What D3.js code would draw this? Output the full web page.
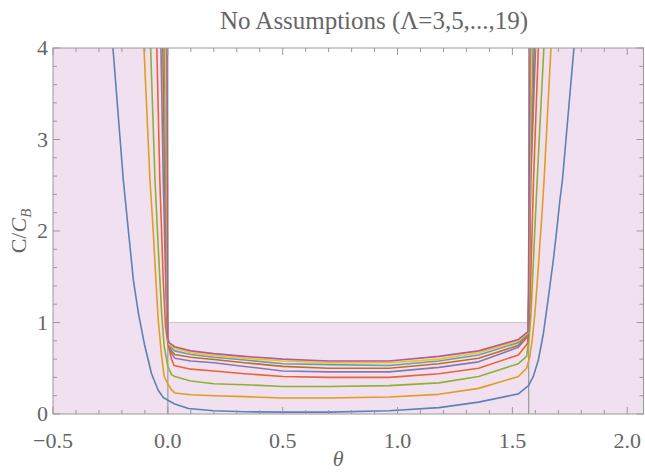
<!DOCTYPE html>
<head>
  <meta charset="utf-8">
  <script src="https://d3js.org/d3.v7.min.js"></script>
  <style>
    body { margin:0; background:#fff; }
    text { font-family: "Liberation Serif", "DejaVu Serif", serif; fill:#666; }
  </style>
</head>
<body>
<script>
// Lambda values and the default plot colours
var lambdas = [3, 5, 7, 9, 11, 13, 15, 17, 19];
var colors = ['#5E81B5', '#E19C24', '#8FB032', '#EB6235', '#8778B3', '#C56E1A', '#5D9EC7', '#FFBF00', '#A5609D'];

// [theta, C/C_B], one array per Lambda
var curve3 = [[-0.239,4],[-0.194,2.56],[-0.172,2.01],[-0.150,1.46],[-0.128,1.10],[-0.100,0.74],[-0.071,0.44],[-0.042,0.26],[-0.020,0.18],[0,0.15],[0.03,0.11],[0.09,0.06],[0.2,0.035],[0.334,0.025],[0.5,0.02],[0.7,0.02],[0.963,0.036],[1.18,0.07],[1.353,0.13],[1.526,0.22],[1.570,0.31],[1.591,0.41],[1.613,0.59],[1.635,0.88],[1.657,1.28],[1.678,1.68],[1.693,2.01],[1.707,2.34],[1.718,2.56],[1.768,4]];
var curve5 = [[-0.104,4],[-0.078,2.56],[-0.064,2.01],[-0.052,1.46],[-0.042,1.03],[-0.027,0.63],[-0.016,0.41],[0,0.33],[0.017,0.26],[0.03,0.23],[0.1,0.21],[0.2,0.2],[0.334,0.19],[0.5,0.175],[0.7,0.175],[0.963,0.185],[1.18,0.215],[1.353,0.28],[1.526,0.41],[1.562,0.50],[1.576,0.63],[1.586,0.81],[1.598,1.10],[1.609,1.46],[1.619,1.83],[1.629,2.19],[1.638,2.56],[1.668,4]];
var curve7 = [[-0.075,4],[-0.056,2.56],[-0.042,1.83],[-0.027,1.10],[-0.016,0.74],[0,0.52],[0.016,0.43],[0.03,0.41],[0.1,0.36],[0.2,0.33],[0.334,0.32],[0.5,0.30],[0.7,0.30],[0.963,0.31],[1.18,0.34],[1.353,0.41],[1.526,0.55],[1.562,0.63],[1.572,0.81],[1.581,1.10],[1.591,1.65],[1.601,2.19],[1.608,2.56],[1.637,4]];
var curve9 = [[-0.048,4],[-0.035,2.56],[-0.020,1.46],[-0.010,0.95],[0,0.77],[0.016,0.60],[0.027,0.53],[0.1,0.49],[0.2,0.47],[0.334,0.44],[0.5,0.41],[0.7,0.40],[0.963,0.40],[1.18,0.44],[1.353,0.50],[1.526,0.645],[1.566,0.77],[1.576,1.17],[1.586,2.01],[1.592,2.56],[1.613,4]];
var curve11 = [[-0.030,4],[-0.020,2.56],[-0.008,1.30],[0,0.80],[0.012,0.68],[0.03,0.61],[0.1,0.58],[0.2,0.56],[0.334,0.52],[0.5,0.47],[0.7,0.46],[0.963,0.46],[1.18,0.51],[1.353,0.57],[1.526,0.73],[1.568,0.85],[1.574,1.5],[1.58,2.56],[1.601,4]];
var curve13 = [[-0.022,4],[-0.014,2.56],[-0.005,1.3],[0,0.81],[0.01,0.71],[0.03,0.65],[0.1,0.62],[0.2,0.595],[0.334,0.56],[0.5,0.52],[0.7,0.50],[0.963,0.50],[1.18,0.55],[1.353,0.61],[1.526,0.75],[1.568,0.87],[1.573,1.4],[1.579,2.56],[1.595,4]];
var curve15 = [[-0.015,4],[-0.009,2.56],[-0.003,1.3],[0,0.82],[0.008,0.74],[0.03,0.69],[0.1,0.65],[0.2,0.62],[0.334,0.59],[0.5,0.55],[0.7,0.54],[0.963,0.53],[1.18,0.58],[1.353,0.645],[1.526,0.78],[1.568,0.88],[1.572,1.4],[1.577,2.56],[1.589,4]];
var curve17 = [[-0.009,4],[-0.005,2.56],[-0.002,1.3],[0,0.82],[0.006,0.76],[0.03,0.72],[0.1,0.67],[0.2,0.64],[0.334,0.61],[0.5,0.58],[0.7,0.56],[0.963,0.56],[1.18,0.60],[1.353,0.67],[1.526,0.80],[1.568,0.89],[1.571,1.4],[1.575,2.56],[1.583,4]];
var curve19 = [[-0.004,4],[-0.002,2.56],[-0.001,1.3],[0,0.83],[0.005,0.78],[0.03,0.735],[0.1,0.69],[0.2,0.66],[0.334,0.63],[0.5,0.60],[0.7,0.58],[0.963,0.58],[1.18,0.63],[1.353,0.69],[1.526,0.815],[1.568,0.9],[1.57,1.4],[1.573,2.56],[1.577,4]];
var curves = [curve3, curve5, curve7, curve9, curve11, curve13, curve15, curve17, curve19];

var xTickValues = [-0.5, 0.0, 0.5, 1.0, 1.5, 2.0];
var yTickValues = [0, 1, 2, 3, 4];
var halfPi = Math.PI / 2;

var width = 645, height = 474;
var pLeft = 53, pRight = 643.5, pTop = 48, pBottom = 414;

var svg = d3.select('body').append('svg')
  .attr('width', width)
  .attr('height', height);

var x = d3.scaleLinear().domain([-0.5, halfPi + 0.5]).range([pLeft, pRight]);
var y = d3.scaleLinear().domain([0, 4]).range([pBottom, pTop]);

svg.append('clipPath').attr('id', 'plotclip')
  .append('rect')
  .attr('x', pLeft).attr('y', pTop)
  .attr('width', pRight - pLeft).attr('height', pBottom - pTop);

var plot = svg.append('g').attr('clip-path', 'url(#plotclip)');

// shaded region: outside [0, pi/2] or below 1
var pink = '#f1e1f0';
plot.append('rect')
  .attr('x', x(-0.5)).attr('y', y(4))
  .attr('width', x(0) - x(-0.5)).attr('height', y(0) - y(4))
  .attr('fill', pink);
plot.append('rect')
  .attr('x', x(halfPi)).attr('y', y(4))
  .attr('width', x(halfPi + 0.5) - x(halfPi)).attr('height', y(0) - y(4))
  .attr('fill', pink);
plot.append('rect')
  .attr('x', x(0)).attr('y', y(1))
  .attr('width', x(halfPi) - x(0)).attr('height', y(0) - y(1))
  .attr('fill', pink);

plot.append('line')
  .attr('x1', x(0)).attr('x2', x(halfPi))
  .attr('y1', y(1)).attr('y2', y(1))
  .attr('stroke', '#c8c8c8').attr('stroke-width', 1.2);
[0, halfPi].forEach(function(t) {
  plot.append('line')
    .attr('x1', x(t)).attr('x2', x(t))
    .attr('y1', y(0)).attr('y2', y(4))
    .attr('stroke', '#a0a0a0').attr('stroke-width', 1.3);
});

var line = d3.line()
  .x(function(d) { return x(d[0]); })
  .y(function(d) { return y(d[1]); });

plot.selectAll('.curve')
  .data(curves)
  .enter().append('path')
  .attr('class', 'curve')
  .attr('d', line)
  .attr('fill', 'none')
  .attr('stroke', function(d, i) { return colors[i]; })
  .attr('stroke-width', 1.6)
  .attr('stroke-linejoin', 'round');

// frame with inward ticks on all sides
var frameColor = '#999';
svg.append('rect')
  .attr('x', pLeft).attr('y', pTop)
  .attr('width', pRight - pLeft).attr('height', pBottom - pTop)
  .attr('fill', 'none').attr('stroke', frameColor).attr('stroke-width', 1);

var xMinor = d3.range(-5, 21).map(function(k) { return k / 10; });
var yMinor = d3.range(0, 21).map(function(k) { return k / 5; });

var ticks = svg.append('g').attr('stroke', frameColor).attr('stroke-width', 1);
xMinor.forEach(function(t) {
  var major = Math.abs(t * 2 - Math.round(t * 2)) < 1e-6;
  var len = major ? 7 : 4;
  ticks.append('line').attr('x1', x(t)).attr('x2', x(t)).attr('y1', pBottom).attr('y2', pBottom - len);
  ticks.append('line').attr('x1', x(t)).attr('x2', x(t)).attr('y1', pTop).attr('y2', pTop + len);
});
yMinor.forEach(function(v) {
  var major = Math.abs(v - Math.round(v)) < 1e-6;
  var len = major ? 7 : 4;
  ticks.append('line').attr('x1', pLeft).attr('x2', pLeft + len).attr('y1', y(v)).attr('y2', y(v));
  ticks.append('line').attr('x1', pRight).attr('x2', pRight - len).attr('y1', y(v)).attr('y2', y(v));
});

svg.selectAll('.xlab')
  .data(xTickValues)
  .enter().append('text')
  .attr('class', 'xlab')
  .attr('x', function(d) { return x(d); })
  .attr('y', pBottom + 34)
  .attr('text-anchor', 'middle')
  .style('font-size', '22px')
  .text(function(d) { return (d < 0 ? '\u2212' : '') + Math.abs(d).toFixed(1); });

svg.selectAll('.ylab')
  .data(yTickValues)
  .enter().append('text')
  .attr('class', 'ylab')
  .attr('x', pLeft - 5)
  .attr('y', function(d) { return y(d) + 7; })
  .attr('text-anchor', 'end')
  .style('font-size', '22px')
  .text(function(d) { return d; });

svg.append('text')
  .attr('x', 220)
  .attr('y', 29)
  .attr('textLength', 308)
  .attr('lengthAdjust', 'spacing')
  .style('font-size', '25px')
  .text('No Assumptions (\u039B=3,5,...,19)');

svg.append('text')
  .attr('x', (pLeft + pRight) / 2 - 10)
  .attr('y', 466)
  .attr('text-anchor', 'middle')
  .style('font-size', '22px')
  .style('font-style', 'italic')
  .text('\u03B8');

var ylabel = svg.append('text')
  .attr('transform', 'translate(26,' + ((pTop + pBottom) / 2) + ') rotate(-90)')
  .attr('text-anchor', 'middle')
  .style('font-size', '22px');
ylabel.append('tspan').text('C/');
ylabel.append('tspan').style('font-style', 'italic').text('C');
ylabel.append('tspan').style('font-style', 'italic').style('font-size', '15px').attr('dy', 5).text('B');
</script>
</body>
